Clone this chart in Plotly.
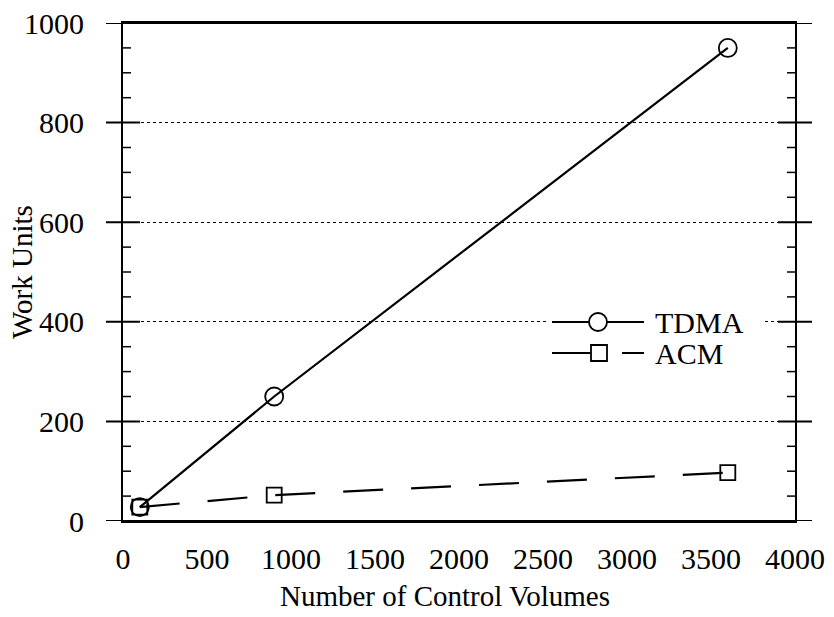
import plotly.graph_objects as go

# Data
control_volumes = [100, 900, 3600]
tdma_work = [28, 250, 950]
acm_work = [28, 52, 97]

x_ticks = [0, 500, 1000, 1500, 2000, 2500, 3000, 3500, 4000]
y_major = [0, 200, 400, 600, 800, 1000]
y_minor = [v for v in range(50, 1000, 50) if v % 200 != 0]

FONT = "Liberation Serif, Times New Roman, serif"

# plot area in pixels
W, H = 834, 617
L, R, T, B = 123, 39, 23, 96
PW = W - L - R
PH = H - T - B

def px(xp):
    return (xp - L) / PW

def py(yp):
    return (H - B - yp) / PH

fig = go.Figure()
fig.add_trace(go.Scatter(
    x=control_volumes, y=tdma_work, mode="lines+markers", name="TDMA",
    line=dict(color="black", width=2.2),
    marker=dict(symbol="circle-open", size=18, color="black", line=dict(width=1.8)),
    showlegend=False))
fig.add_trace(go.Scatter(
    x=control_volumes, y=acm_work, mode="lines+markers", name="ACM",
    line=dict(color="black", width=2.2, dash="40px,28px"),
    marker=dict(symbol="square-open", size=15, color="black", line=dict(width=1.8)),
    showlegend=False))

shapes = []
# white box behind legend
shapes.append(dict(type="rect", xref="paper", yref="paper",
                   x0=px(546), x1=px(765), y0=py(368), y1=py(303),
                   fillcolor="white", line=dict(width=0), layer="above"))
# major ticks (crossing axes)
for v in y_major:
    if v in (0, 1000):
        shapes.append(dict(type="line", xref="paper", yref="y", x0=px(106), x1=px(812),
                           y0=v, y1=v, line=dict(color="black", width=2)))
    else:
        shapes.append(dict(type="line", xref="paper", yref="y", x0=px(106), x1=px(140),
                           y0=v, y1=v, line=dict(color="black", width=2)))
        shapes.append(dict(type="line", xref="paper", yref="y", x0=px(778), x1=px(812),
                           y0=v, y1=v, line=dict(color="black", width=2)))
# minor ticks inward
for v in y_minor:
    shapes.append(dict(type="line", xref="paper", yref="y", x0=px(123), x1=px(131),
                       y0=v, y1=v, line=dict(color="black", width=1.5)))
    shapes.append(dict(type="line", xref="paper", yref="y", x0=px(787), x1=px(795),
                       y0=v, y1=v, line=dict(color="black", width=1.5)))

# legend samples
ly1, ly2 = 322, 353
shapes.append(dict(type="line", xref="paper", yref="paper", x0=px(552), x1=px(644),
                   y0=py(ly1), y1=py(ly1), line=dict(color="black", width=2)))
shapes.append(dict(type="circle", xref="paper", yref="paper", x0=px(589), x1=px(607),
                   y0=py(ly1 + 9), y1=py(ly1 - 9), fillcolor="white",
                   line=dict(color="black", width=1.8)))
shapes.append(dict(type="line", xref="paper", yref="paper", x0=px(552), x1=px(591),
                   y0=py(ly2), y1=py(ly2), line=dict(color="black", width=2)))
shapes.append(dict(type="rect", xref="paper", yref="paper", x0=px(591), x1=px(607),
                   y0=py(ly2 + 8), y1=py(ly2 - 8), fillcolor="white",
                   line=dict(color="black", width=1.8)))
shapes.append(dict(type="line", xref="paper", yref="paper", x0=px(622), x1=px(644),
                   y0=py(ly2), y1=py(ly2), line=dict(color="black", width=2)))

annotations = [
    dict(xref="paper", yref="paper", x=px(653), y=py(ly1), text="TDMA", showarrow=False,
         xanchor="left", yanchor="middle", font=dict(family=FONT, size=30, color="black")),
    dict(xref="paper", yref="paper", x=px(653), y=py(ly2), text="ACM", showarrow=False,
         xanchor="left", yanchor="middle", font=dict(family=FONT, size=30, color="black")),
    # axis titles
    dict(xref="paper", yref="paper", x=px(445), y=py(596), text="Number of Control Volumes",
         showarrow=False, xanchor="center", yanchor="middle",
         font=dict(family=FONT, size=29, color="black")),
    dict(xref="paper", yref="paper", x=px(22), y=py(272), text="Work Units",
         showarrow=False, xanchor="center", yanchor="middle", textangle=-90,
         font=dict(family=FONT, size=29, color="black")),
]

fig.update_layout(
    width=W, height=H,
    margin=dict(l=L, r=R, t=T, b=B),
    paper_bgcolor="white", plot_bgcolor="white",
    font=dict(family=FONT, size=30, color="black"),
    shapes=shapes, annotations=annotations,
    xaxis=dict(range=[0, 4000], tickvals=x_ticks, ticktext=[str(v) for v in x_ticks],
               showgrid=False, zeroline=False, showline=True, linecolor="black",
               linewidth=2, mirror=True, ticks="", ticklabelstandoff=10,
               tickfont=dict(family=FONT, size=30), automargin=False),
    yaxis=dict(range=[0, 1000], tickvals=y_major, ticktext=[str(v) for v in y_major],
               showgrid=True, gridcolor="black", griddash="dot", gridwidth=1,
               zeroline=False, showline=True, linecolor="black", linewidth=2, mirror=True,
               ticks="", ticklabelstandoff=31,
               tickfont=dict(family=FONT, size=30), automargin=False),
)

fig.write_html("out.html", config={"displayModeBar": False},
               post_script="document.body.style.margin='0';document.body.style.padding='0';")
